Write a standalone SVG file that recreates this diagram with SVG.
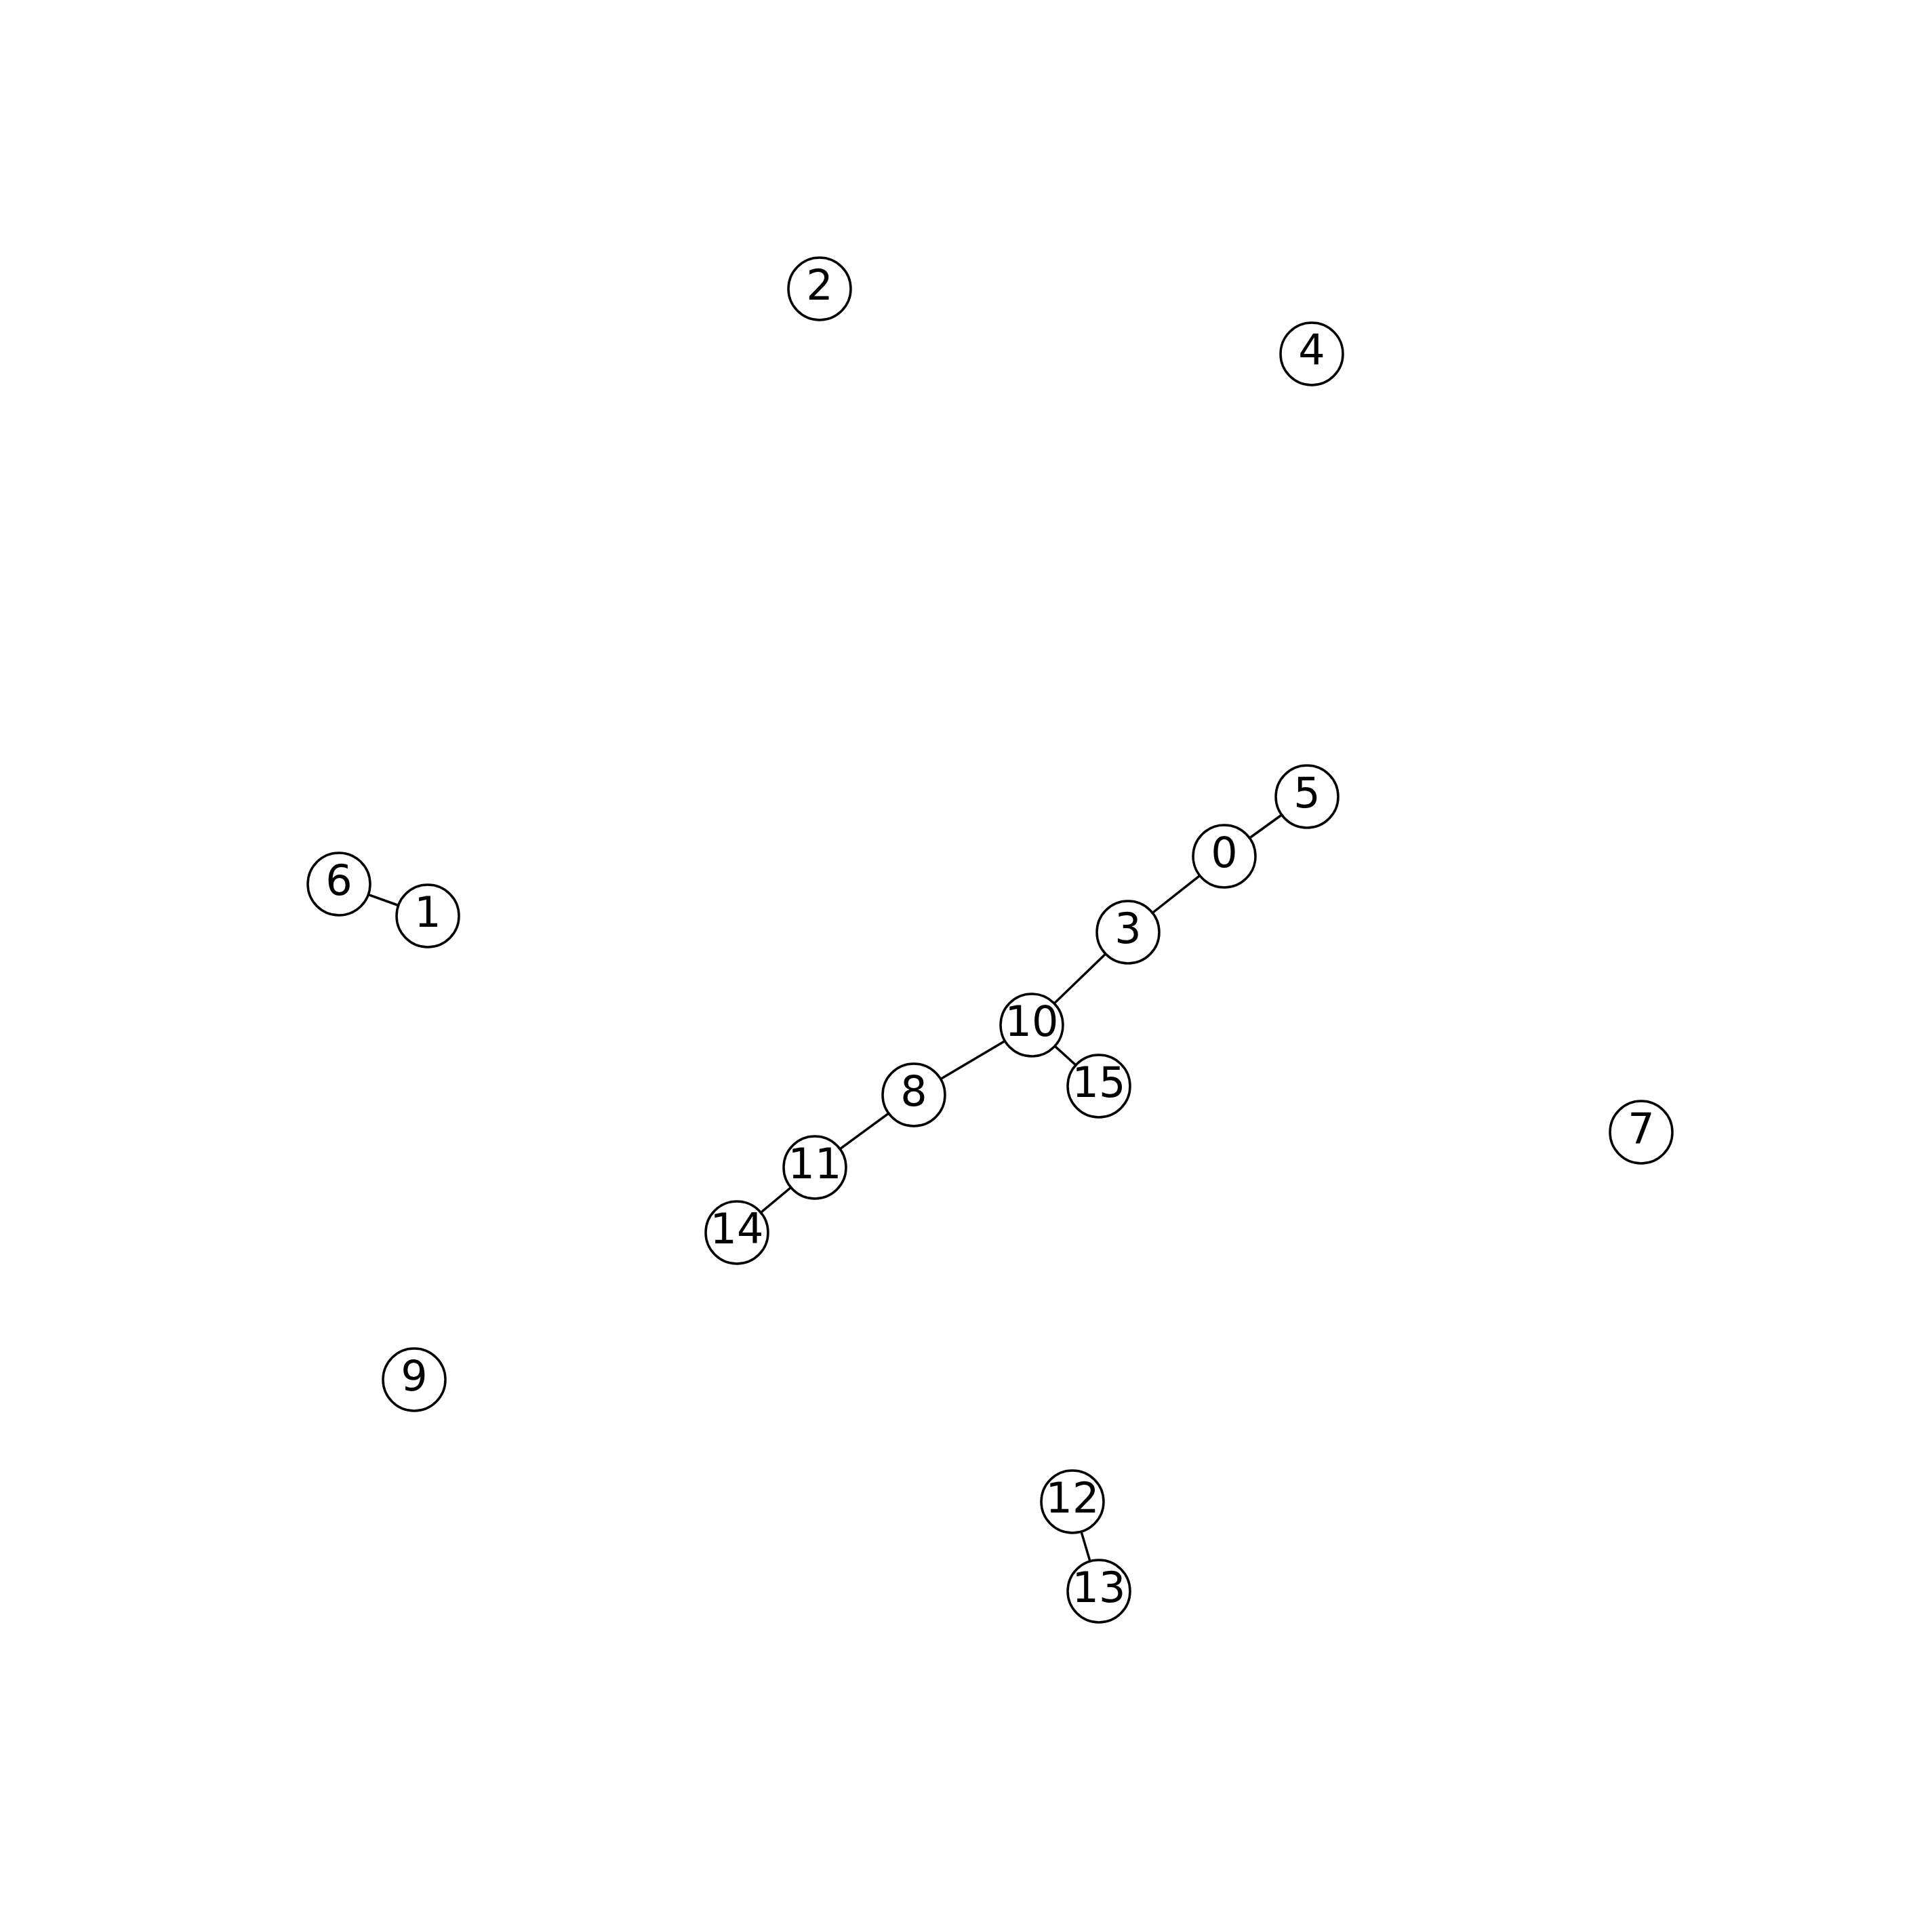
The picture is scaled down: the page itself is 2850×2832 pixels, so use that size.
<svg xmlns="http://www.w3.org/2000/svg" width="2850" height="2832" viewBox="0 0 2850 2832">
<style>
.n circle{fill:#fff;stroke:#000;stroke-width:3.5}
.n text{font-family:"DejaVu Sans",sans-serif;font-size:62px;text-anchor:middle;fill:#000}
#edges line{stroke:#000;stroke-width:3.5}
</style>
<rect width="2850" height="2832" fill="#fff"/>
<g id="edges">
<line x1="500" y1="1304" x2="631" y2="1351"/>
<line x1="1928" y1="1175" x2="1806" y2="1263"/>
<line x1="1806" y1="1263" x2="1664" y2="1375"/>
<line x1="1664" y1="1375" x2="1522" y2="1512"/>
<line x1="1522" y1="1512" x2="1348" y2="1615"/>
<line x1="1522" y1="1512" x2="1621" y2="1602"/>
<line x1="1348" y1="1615" x2="1202" y2="1722"/>
<line x1="1202" y1="1722" x2="1087" y2="1818"/>
<line x1="1582" y1="2215" x2="1621" y2="2347"/>
</g>
<g id="node0" class="n"><circle cx="1806" cy="1263" r="46"/><text x="1806" y="1279">0</text></g>
<g id="node1" class="n"><circle cx="631" cy="1351" r="46"/><text x="631" y="1367">1</text></g>
<g id="node2" class="n"><circle cx="1209" cy="426" r="46"/><text x="1209" y="442">2</text></g>
<g id="node3" class="n"><circle cx="1664" cy="1375" r="46"/><text x="1664" y="1391">3</text></g>
<g id="node4" class="n"><circle cx="1935" cy="522" r="46"/><text x="1935" y="538">4</text></g>
<g id="node5" class="n"><circle cx="1928" cy="1175" r="46"/><text x="1928" y="1191">5</text></g>
<g id="node6" class="n"><circle cx="500" cy="1304" r="46"/><text x="500" y="1320">6</text></g>
<g id="node7" class="n"><circle cx="2421" cy="1670" r="46"/><text x="2421" y="1686">7</text></g>
<g id="node8" class="n"><circle cx="1348" cy="1615" r="46"/><text x="1348" y="1631">8</text></g>
<g id="node9" class="n"><circle cx="611" cy="2035" r="46"/><text x="611" y="2051">9</text></g>
<g id="node10" class="n"><circle cx="1522" cy="1512" r="46"/><text x="1522" y="1528">10</text></g>
<g id="node11" class="n"><circle cx="1202" cy="1722" r="46"/><text x="1202" y="1738">11</text></g>
<g id="node12" class="n"><circle cx="1582" cy="2215" r="46"/><text x="1582" y="2231">12</text></g>
<g id="node13" class="n"><circle cx="1621" cy="2347" r="46"/><text x="1621" y="2363">13</text></g>
<g id="node14" class="n"><circle cx="1087" cy="1818" r="46"/><text x="1087" y="1834">14</text></g>
<g id="node15" class="n"><circle cx="1621" cy="1602" r="46"/><text x="1621" y="1618">15</text></g>
</svg>
